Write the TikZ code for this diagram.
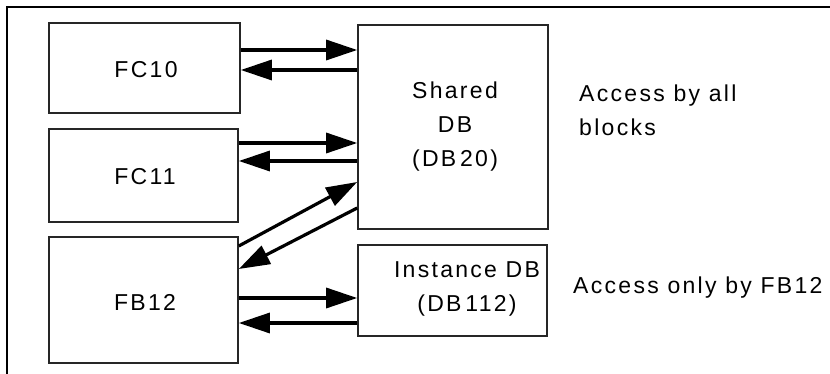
\documentclass[tikz,border=0pt]{standalone}
\usepackage{fontspec}
\setmainfont{Liberation Sans}
\newfontfamily\lab[LetterSpace=10]{Liberation Sans}
\usetikzlibrary{arrows.meta}
\begin{document}
\begin{tikzpicture}[x=1pt,y=-1pt,
  blk/.style={draw=black!85, line width=1.6pt, minimum width=#1, inner sep=0pt, fill=white},
  arr/.style={line width=3.2pt, -{Triangle[length=31pt,width=20pt]}},
  txt/.style={font=\lab\fontsize{23}{34}\selectfont, inner sep=0pt, align=center}]
\useasboundingbox (0,0) rectangle (830,374);
\fill[white] (0,0) rectangle (830,374);
% frame
\draw[line width=1.8pt] (830,7) -- (7,7) -- (7,374);
% blocks
\node[blk=191pt, minimum height=90pt] (FC10) at (144.5,68) {};
\node[blk=189pt, minimum height=93pt] (FC11) at (143.5,175.5) {};
\node[blk=189pt, minimum height=126pt] (FB12) at (143.5,300) {};
\node[blk=190pt, minimum height=204pt] (Shared) at (453,127) {};
\node[blk=189pt, minimum height=91pt] (Inst) at (452.5,290.5) {};
% labels
\node[txt] (tFC10) at (146,70) {FC10};
\node[txt] (tFC11) at (145,177) {FC11};
\node[txt] (tFB12) at (145,302) {FB12};
\node[txt] (tShared) at (455,127) {Shared\\DB\\(DB\,20)};
\node[txt] (tInst) at (467,289) {Instance DB\\(DB\,112)};
\node[txt, anchor=west, align=left] (tAll) at (579,110) {Access by all\\blocks};
\node[txt, anchor=west] (tOnly) at (573,288) {Access only by FB12};
% arrows
\draw[arr] (FC10.east |- 0,50) -- (Shared.west |- 0,50);
\draw[arr] (Shared.west |- 0,70) -- (FC10.east |- 0,70);
\draw[arr] (FC11.east |- 0,143) -- (Shared.west |- 0,143);
\draw[arr] (Shared.west |- 0,161) -- (FC11.east |- 0,161);
\draw[arr] (FB12.east |- 0,246) -- (Shared.west |- 0,182);
\draw[arr] (Shared.west |- 0,208) -- (FB12.east |- 0,269);
\draw[arr] (FB12.east |- 0,298) -- (Inst.west |- 0,298);
\draw[arr] (Inst.west |- 0,323) -- (FB12.east |- 0,323);
\end{tikzpicture}
\end{document}
